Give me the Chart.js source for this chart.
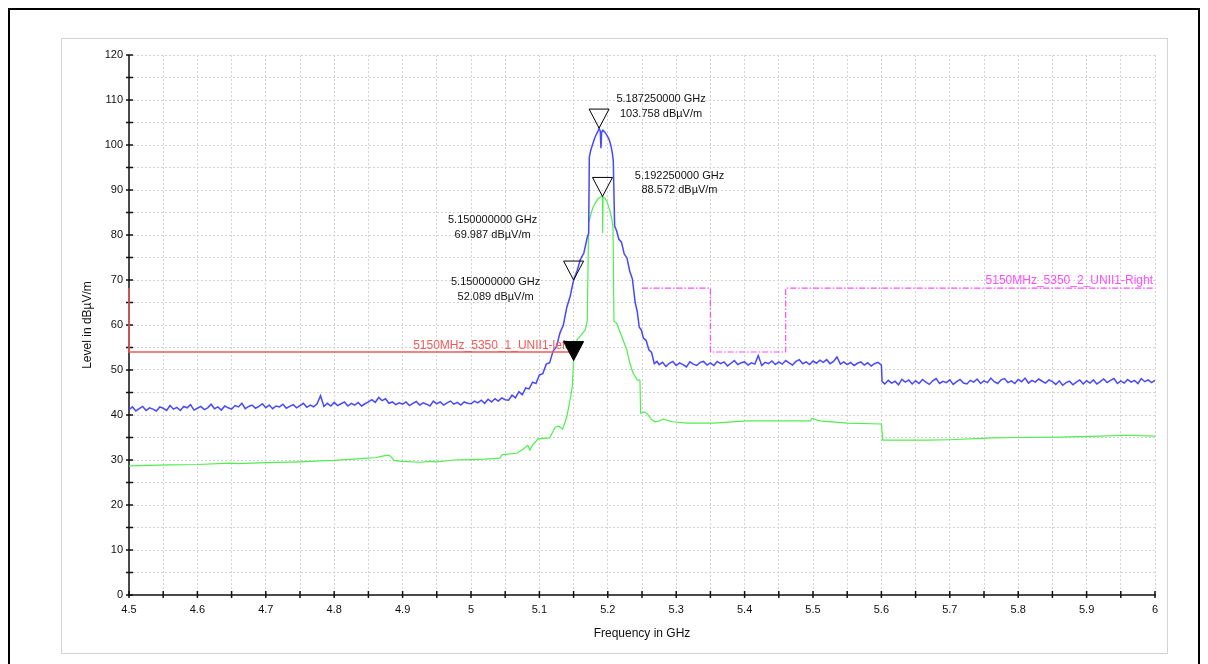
<!DOCTYPE html>
<html>
<head>
<meta charset="utf-8">
<script src="https://cdn.jsdelivr.net/npm/chart.js@4.4.1/dist/chart.umd.min.js"></script>
<style>
  body { margin: 0; background: #fff; }
  #frame { position: absolute; left: 8px; top: 8px; width: 1188px; height: 700px; border: 2px solid #000; }
  #panel { position: absolute; left: 61px; top: 38px; width: 1105px; height: 614px; border: 1px solid #d4d4d4; }
  #chart { position: absolute; left: 0; top: 0; }
</style>
</head>
<body>
<div id="frame"></div>
<div id="panel"></div>
<canvas id="chart" width="1208" height="664"></canvas>
<script>
// sweep step of the flat parts of the traces (GHz)
const SWEEP_STEP = 0.005;

// peak trace (blue), 4.500 .. 5.050 GHz
const blueLowStart = 4.5;
const blueLow = [
  41.2, 41.8, 40.9, 41.4, 41.9, 41.0, 41.6, 41.3, 40.9, 41.8,
  41.5, 41.0, 42.1, 41.3, 41.7, 41.0, 41.9, 41.6, 42.3, 41.1,
  41.5, 41.9, 41.2, 41.6, 42.4, 41.4, 41.8, 41.1, 42.0, 41.6,
  41.3, 42.1, 41.8, 42.6, 41.4, 41.9, 42.2, 41.5, 41.9, 42.5,
  41.6, 42.2, 41.4, 42.0, 41.8, 42.4, 41.5, 41.9, 42.3, 41.6,
  42.1, 42.6, 41.7, 42.2, 41.8, 42.5, 44.3, 41.9, 42.6, 42.0,
  42.8, 42.1, 42.5, 42.9, 42.0, 42.6, 42.2, 42.8, 42.0, 42.5,
  42.9, 43.4, 42.8, 43.9, 43.2, 43.6, 42.6, 42.9, 42.3, 42.7,
  42.4, 42.9, 42.1, 42.6, 43.0, 42.2, 42.7, 42.4, 42.0, 43.1,
  42.5, 42.9, 42.2, 42.7, 43.1, 42.4, 42.8, 42.2, 42.9, 42.6,
  42.5, 43.1, 42.7, 43.3, 42.6, 43.5, 42.9, 43.6, 43.1, 43.8,
  43.4
];

// peak trace around the carrier, [GHz, dBµV/m]
const blueCarrier = [
  [5.055, 43.3], [5.060, 44.4], [5.065, 43.8], [5.070, 45.2], [5.075, 44.5],
  [5.080, 46.0], [5.085, 45.8], [5.090, 47.3], [5.095, 47.0], [5.100, 48.9],
  [5.105, 49.2], [5.110, 51.3], [5.115, 51.6], [5.120, 54.2], [5.125, 55.2],
  [5.130, 58.2], [5.135, 60.0], [5.140, 63.9], [5.145, 66.4], [5.150, 69.99],
  [5.155, 72.0], [5.160, 74.6], [5.165, 76.0], [5.170, 79.5], [5.172, 80.3],
  [5.173, 97.3], [5.175, 98.8], [5.178, 100.2], [5.181, 101.6], [5.184, 102.6],
  [5.186, 103.2], [5.18725, 103.76], [5.189, 103.1], [5.190, 99.3], [5.191, 102.9],
  [5.193, 103.3], [5.196, 102.8], [5.199, 102.1], [5.202, 101.2], [5.205, 99.6],
  [5.207, 97.8], [5.208, 96.5], [5.210, 82.0], [5.213, 80.9], [5.216, 79.1],
  [5.220, 78.4], [5.224, 75.8], [5.228, 74.9], [5.232, 72.0], [5.236, 70.2],
  [5.240, 65.0], [5.243, 63.0], [5.246, 59.5], [5.249, 58.9], [5.252, 57.1],
  [5.256, 56.6], [5.260, 54.5], [5.264, 53.9], [5.268, 51.4], [5.272, 51.9]
];

// peak trace, 5.275 .. 5.600 GHz
const blueMidStart = 5.275;
const blueMid = [
  51.2, 51.7, 50.8, 51.5, 51.9,
  51.0, 51.6, 51.2, 50.7, 51.8, 51.3, 51.0, 51.7, 51.9, 51.1,
  51.6, 51.0, 51.9, 51.4, 51.8, 50.9, 51.5, 52.1, 51.2, 51.6,
  51.8, 51.1, 51.6, 51.3, 53.2, 51.0, 51.7, 51.4, 52.0, 51.2,
  51.8, 51.3, 52.1, 51.6, 51.1, 51.9, 52.3, 51.4, 51.8, 51.2,
  52.0, 51.5, 52.2, 51.7, 52.3, 51.4, 51.9, 52.9, 51.3, 51.8,
  51.2, 51.7, 51.0, 51.5, 51.8, 51.1, 51.6, 50.9, 51.4, 51.7,
  51.1
];

// step down of the peak trace at 5.6 GHz
const blueStep = [[5.601, 47.4]];

// peak trace, 5.605 .. 6.000 GHz
const blueHighStart = 5.605;
const blueHigh = [
  46.9, 47.7, 47.1, 47.5, 46.7, 47.9, 47.3, 47.8, 46.9,
  47.6, 47.0, 47.9, 47.3, 46.8, 47.6, 48.1, 47.0, 47.5, 47.2,
  47.8, 46.8, 47.4, 47.9, 47.1, 46.9, 47.7, 47.3, 48.0, 47.0,
  47.6, 47.2, 48.2, 47.4, 47.0, 47.8, 48.1, 47.2, 47.6, 47.0,
  47.9, 47.4, 48.2, 47.1, 47.7, 47.3, 48.0, 47.5, 47.1, 47.8,
  47.4, 46.8, 47.6, 46.6, 47.2, 47.5, 46.7, 47.3, 47.8, 46.9,
  47.6, 47.1, 47.8, 46.9, 47.4, 48.0, 47.2, 47.7, 48.1, 47.0,
  47.6, 47.1, 47.9, 47.3, 47.7, 47.0, 48.1, 47.4, 47.8, 47.2,
  47.7
];

// average trace (green), [GHz, dBµV/m]
const greenTrace = [
  [4.500, 28.7], [4.530, 28.8], [4.560, 28.9], [4.600, 29.0], [4.648, 29.3],
  [4.660, 29.2], [4.700, 29.4], [4.750, 29.6], [4.780, 29.8], [4.800, 29.9],
  [4.830, 30.2], [4.848, 30.4], [4.860, 30.5], [4.872, 30.9], [4.880, 31.1],
  [4.884, 30.6], [4.887, 29.9], [4.900, 29.7], [4.925, 29.5], [4.940, 29.7],
  [4.950, 29.6], [4.974, 30.0], [5.000, 30.1], [5.020, 30.2], [5.042, 30.4],
  [5.046, 31.2], [5.067, 31.5], [5.076, 32.4], [5.083, 33.3], [5.086, 32.2],
  [5.090, 33.3], [5.098, 34.7], [5.115, 34.9], [5.123, 37.3], [5.128, 37.5],
  [5.134, 36.9], [5.140, 39.6], [5.145, 43.5], [5.148, 46.2], [5.150, 52.089],
  [5.155, 56.7], [5.160, 57.6], [5.167, 58.9], [5.170, 61.0], [5.172, 82.7],
  [5.175, 84.5], [5.178, 86.0], [5.182, 87.2], [5.186, 88.1], [5.190, 88.5],
  [5.1922, 88.57], [5.1925, 80.4], [5.193, 88.5], [5.196, 88.2], [5.199, 87.3],
  [5.203, 85.5], [5.206, 83.4], [5.2076, 81.8], [5.209, 60.8], [5.213, 60.4],
  [5.220, 57.6], [5.228, 54.4], [5.232, 51.6], [5.237, 49.3], [5.243, 47.8],
  [5.247, 47.7], [5.248, 40.4], [5.254, 40.7], [5.258, 40.2], [5.264, 39.0],
  [5.269, 38.5], [5.275, 38.7], [5.281, 39.1], [5.287, 38.8], [5.295, 38.5],
  [5.316, 38.2], [5.354, 38.2], [5.404, 38.7], [5.450, 38.7], [5.496, 38.7],
  [5.4985, 39.3], [5.503, 39.0], [5.510, 38.7], [5.550, 38.2], [5.600, 38.0],
  [5.602, 34.4], [5.667, 34.4], [5.700, 34.5], [5.763, 34.9], [5.800, 35.0],
  [5.861, 35.1], [5.920, 35.3], [5.959, 35.5], [6.000, 35.3]
];

// limit lines
const limitLeftName = '5150MHz_5350_1_UNII1-left';
const limitLeftFreq = [4.5, 4.5, 5.15];
const limitLeftLevel = [68.2, 54, 54];
const limitRightName = '5150MHz_5350_2_UNII1-Right';
const limitRightFreq = [5.25, 5.35, 5.35, 5.46, 5.46, 6.0];
const limitRightLevel = [68.2, 68.2, 54, 54, 68.2, 68.2];

// markers
const markerFreq = [5.18725, 5.19225, 5.15, 5.15];
const markerLevel = [103.758, 88.572, 69.987, 52.089];
const markerFilled = [false, false, false, true];

// axis ticks
const xMin = 4.5, xMax = 6.0, xStep = 0.05;
const yMin = 0, yMax = 120, yStep = 5;

// label placement relative to the marker tip: [dx, dy line 1, dy line 2]
const markerLabelOffset = [[62, -29, -14], [77, -20, -6], [-81, -60, -45], [-78, -79, -64]];

const FONT = '"Liberation Sans", Arial, sans-serif';

const sweep = (start, values) => values.map((v, i) => ({ x: +(start + i * SWEEP_STEP).toFixed(4), y: v }));
const pairs = list => list.map(p => ({ x: p[0], y: p[1] }));
const zipXY = (xs, ys) => xs.map((x, i) => ({ x, y: ys[i] }));

const blueData = [
  ...sweep(blueLowStart, blueLow),
  ...pairs(blueCarrier),
  ...sweep(blueMidStart, blueMid),
  ...pairs(blueStep),
  ...sweep(blueHighStart, blueHigh)
];

const overlay = {
  id: 'overlay',
  beforeDatasetsDraw(chart) {
    const { ctx, chartArea: a, scales: { x, y } } = chart;
    ctx.save();
    // axis lines
    ctx.strokeStyle = '#4a4a4a';
    ctx.lineWidth = 2;
    ctx.beginPath();
    ctx.moveTo(a.left, a.top);
    ctx.lineTo(a.left, a.bottom);
    ctx.lineTo(a.right + 1, a.bottom);
    ctx.stroke();
    // cross ticks
    ctx.strokeStyle = '#111';
    ctx.lineWidth = 1.5;
    ctx.beginPath();
    y.ticks.forEach(t => {
      const py = y.getPixelForValue(t.value);
      ctx.moveTo(a.left - 3, py);
      ctx.lineTo(a.left + 4, py);
    });
    x.ticks.forEach(t => {
      const px = x.getPixelForValue(t.value);
      ctx.moveTo(px, a.bottom - 4);
      ctx.lineTo(px, a.bottom + 3);
    });
    ctx.stroke();
    ctx.restore();
  },
  afterDatasetsDraw(chart) {
    const { ctx, scales: { x, y } } = chart;
    ctx.save();
    ctx.font = '12px ' + FONT;
    ctx.textAlign = 'right';
    ctx.textBaseline = 'alphabetic';
    // limit line names
    ctx.fillStyle = '#f05a5a';
    ctx.fillText(limitLeftName, x.getPixelForValue(limitLeftFreq[2]) - 5, y.getPixelForValue(limitLeftLevel[2]) - 3);
    ctx.fillStyle = '#ff4dff';
    ctx.fillText(limitRightName, x.getPixelForValue(limitRightFreq[5]) - 2, y.getPixelForValue(limitRightLevel[5]) - 4);

    // markers
    ctx.font = '11px ' + FONT;
    ctx.textAlign = 'center';
    ctx.textBaseline = 'middle';
    markerFreq.forEach((f, i) => {
      const px = x.getPixelForValue(f);
      const py = y.getPixelForValue(markerLevel[i]);
      ctx.beginPath();
      ctx.moveTo(px, py);
      ctx.lineTo(px - 10, py - 19);
      ctx.lineTo(px + 10, py - 19);
      ctx.closePath();
      ctx.lineWidth = 1;
      ctx.strokeStyle = '#000';
      if (markerFilled[i]) {
        ctx.fillStyle = '#000';
        ctx.fill();
      }
      ctx.stroke();
      const [dx, dy1, dy2] = markerLabelOffset[i];
      ctx.fillStyle = '#111';
      ctx.fillText(f.toFixed(9) + ' GHz', px + dx, py + dy1);
      ctx.fillText(markerLevel[i].toFixed(3) + ' dBµV/m', px + dx, py + dy2);
    });
    ctx.restore();
  }
};

new Chart(document.getElementById('chart'), {
  type: 'line',
  data: {
    datasets: [
      {
        label: limitLeftName,
        data: zipXY(limitLeftFreq, limitLeftLevel),
        borderColor: '#f05a5a',
        borderWidth: 1.5,
        pointRadius: 0,
        clip: false
      },
      {
        label: limitRightName,
        data: zipXY(limitRightFreq, limitRightLevel),
        borderColor: '#ff4dff',
        borderWidth: 1.2,
        borderDash: [6, 2, 1.5, 2],
        pointRadius: 0
      },
      {
        label: 'Peak',
        data: blueData,
        borderColor: '#4848ff',
        borderWidth: 1.5,
        pointRadius: 0
      },
      {
        label: 'Average',
        data: pairs(greenTrace),
        borderColor: '#4ef04e',
        borderWidth: 1.2,
        pointRadius: 0
      }
    ]
  },
  options: {
    responsive: false,
    animation: false,
    devicePixelRatio: 1,
    layout: { padding: { left: 20, right: 53, top: 55, bottom: 10 } },
    plugins: { legend: { display: false }, tooltip: { enabled: false } },
    elements: { line: { tension: 0 } },
    scales: {
      x: {
        type: 'linear',
        min: xMin,
        max: xMax,
        afterFit: s => { s.height = 59; },
        border: { display: false, dash: [2, 2] },
        grid: { color: '#d4d4d4', lineWidth: 1, drawTicks: false },
        ticks: {
          stepSize: xStep,
          autoSkip: false,
          maxRotation: 0,
          padding: 8,
          color: '#111',
          font: { family: FONT, size: 11 },
          callback: v => (Math.round(v * 100) % 10 === 0 ? String(+v.toFixed(1)) : '')
        },
        title: {
          display: true,
          text: 'Frequency in GHz',
          color: '#111',
          font: { family: FONT, size: 12 },
          padding: { top: 0, bottom: 13 }
        }
      },
      y: {
        min: yMin,
        max: yMax,
        afterFit: s => { s.width = 109; },
        border: { display: false, dash: [2, 2] },
        grid: { color: '#d4d4d4', lineWidth: 1, drawTicks: false },
        ticks: {
          stepSize: yStep,
          autoSkip: false,
          padding: 6,
          color: '#111',
          font: { family: FONT, size: 11 },
          callback: v => (v % 10 === 0 ? String(v) : '')
        },
        title: {
          display: true,
          text: 'Level in dBµV/m',
          color: '#111',
          font: { family: FONT, size: 12 },
          padding: { top: 60, bottom: 0 }
        }
      }
    }
  },
  plugins: [overlay]
});
</script>
</body>
</html>
